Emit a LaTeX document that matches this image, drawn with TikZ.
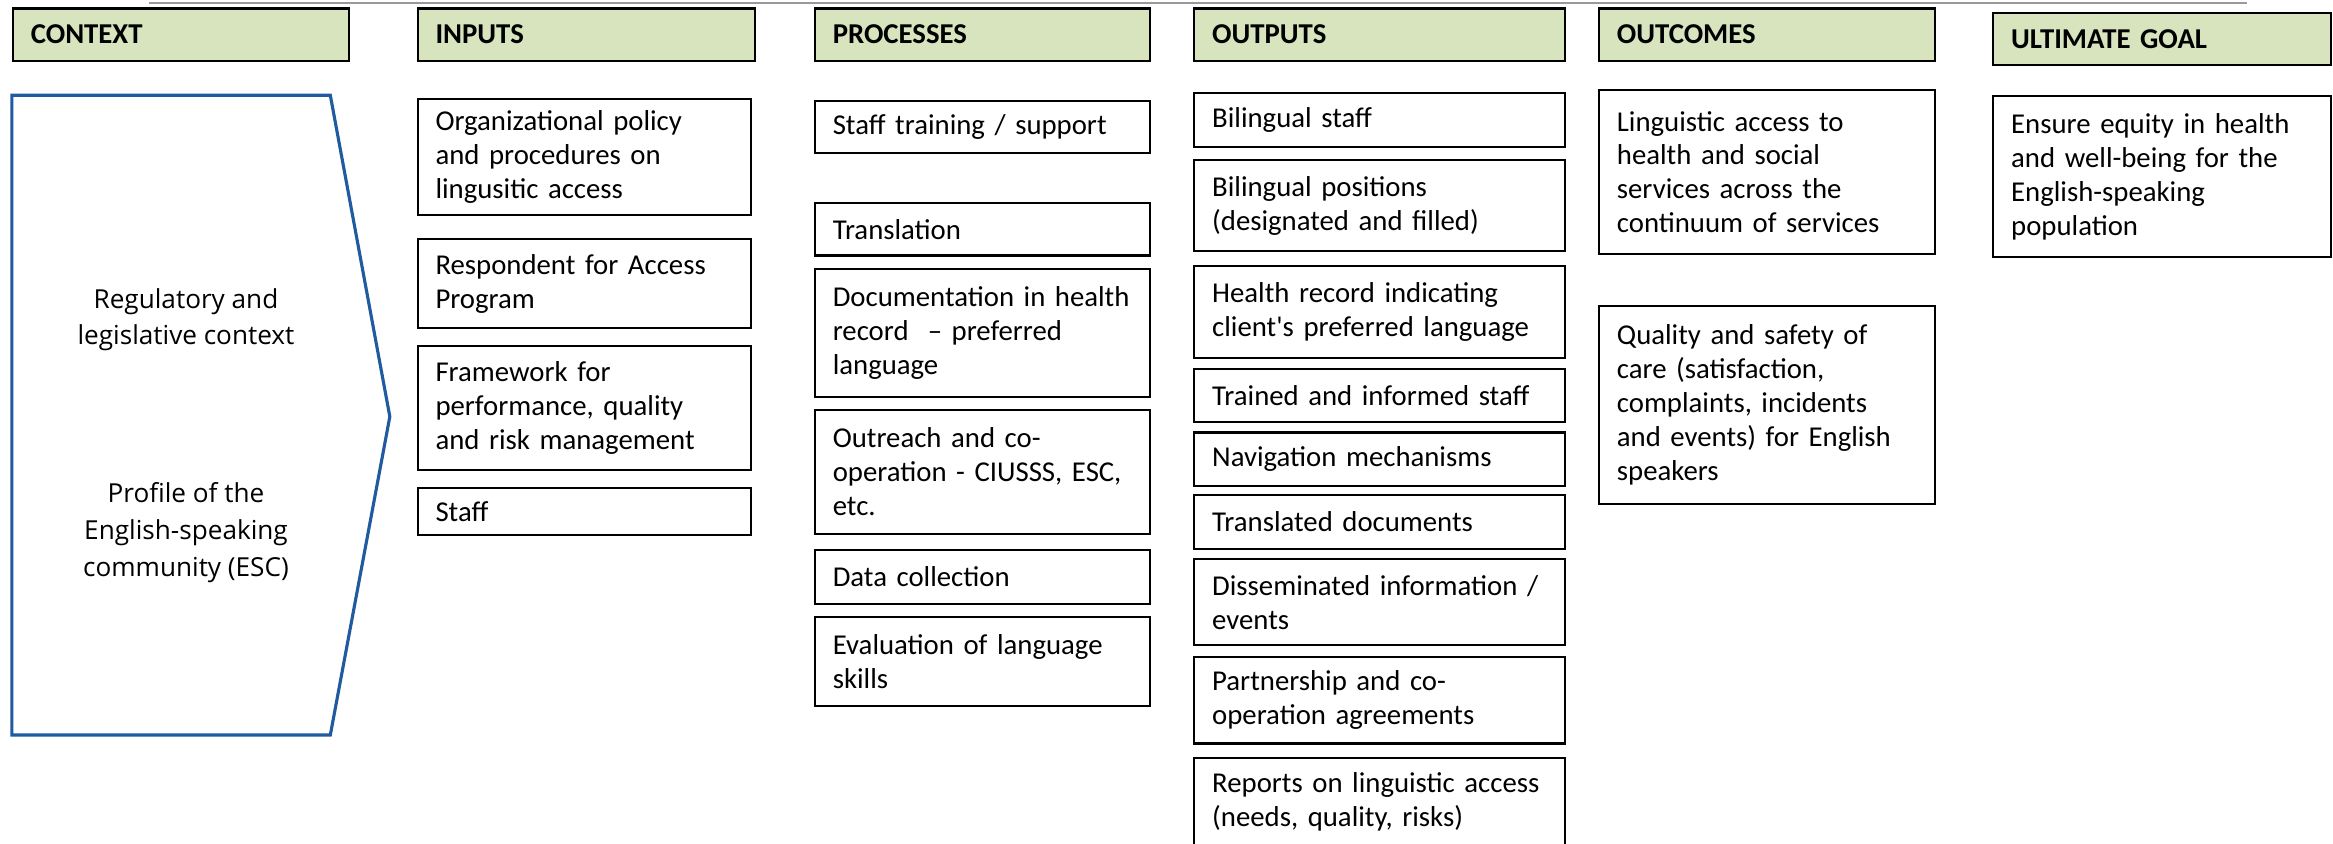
\documentclass[tikz,border=0pt]{standalone}
\usepackage{fontspec}
\setmainfont{Carlito}
\newfontfamily\ctxfont{Open Sans}
\definecolor{hdrgreen}{HTML}{D7E4BD}
\definecolor{ctxblue}{HTML}{1F5B9E}
\begin{document}
\begin{tikzpicture}[
  hdr/.style={draw,fill=hdrgreen,line width=0.8pt,anchor=north west,minimum height=0.7cm,inner xsep=0.24cm,text width=#1,align=left,font=\fontsize{11}{13}\selectfont\bfseries},
  box/.style={draw,line width=0.8pt,anchor=north west,inner xsep=0.24cm,inner ysep=0pt,text width=#1,align=left,font=\fontsize{11}{13}\selectfont},
  ctx/.style={align=center,font=\ctxfont\fontsize{10}{14}\selectfont}]
\useasboundingbox (0,0) rectangle (31.36,-11.34);
\draw[black!40,line width=0.6pt](2.0,-0.04)--(30.2,-0.04);
% column headers
\foreach \x/\y/\w/\n/\t in {0.16/-0.10/4.04/hctx/CONTEXT, 5.60/-0.10/4.06/hin/INPUTS, 10.94/-0.10/4.02/hproc/PROCESSES,
  16.04/-0.10/4.50/hout/OUTPUTS, 21.48/-0.10/4.04/hres/OUTCOMES, 26.78/-0.16/4.06/hgoal/ULTIMATE GOAL}
  \node[hdr=\w cm](\n)at(\x,\y){\t};
% context
\draw[ctxblue,line width=1.2pt](0.16,-1.28)--(4.44,-1.28)--(5.24,-5.60)--(4.44,-9.88)--(0.16,-9.88)--cycle;
\node[ctx](reg)at(2.5,-4.30){Regulatory and\\legislative context};
\node[ctx](esc)at(2.5,-7.16){Profile of the\\English-speaking\\community (ESC)};
% inputs
\node[box=4.00cm,minimum height=1.56cm](in1)at(5.60,-1.32){Organizational policy\\and procedures on\\lingusitic access};
\node[box=4.00cm,minimum height=1.20cm](in2)at(5.60,-3.20){Respondent for Access\\Program};
\node[box=4.00cm,minimum height=1.66cm](in3)at(5.60,-4.64){Framework for\\performance, quality\\and risk management};
\node[box=4.00cm,minimum height=0.64cm](in4)at(5.60,-6.54){Staff};
% processes
\node[box=4.02cm,minimum height=0.70cm](pr1)at(10.94,-1.34){Staff training / support};
\node[box=4.02cm,minimum height=0.70cm](pr2)at(10.94,-2.72){Translation};
\node[box=4.02cm,minimum height=1.72cm](pr3)at(10.94,-3.60){Documentation in health\\record ~-- preferred\\language};
\node[box=4.02cm,minimum height=1.66cm](pr4)at(10.94,-5.50){Outreach and co-\\operation - CIUSSS, ESC,\\etc.};
\node[box=4.02cm,minimum height=0.72cm](pr5)at(10.94,-7.38){Data collection};
\node[box=4.02cm,minimum height=1.20cm](pr6)at(10.94,-8.28){Evaluation of language\\skills};
% outputs
\node[box=4.50cm,minimum height=0.72cm](out1)at(16.04,-1.24){Bilingual staff};
\node[box=4.50cm,minimum height=1.22cm](out2)at(16.04,-2.14){Bilingual positions\\(designated and filled)};
\node[box=4.50cm,minimum height=1.24cm](out3)at(16.04,-3.56){Health record indicating\\client\textquotesingle s preferred language};
\node[box=4.50cm,minimum height=0.72cm](out4)at(16.04,-4.94){Trained and informed staff};
\node[box=4.50cm,minimum height=0.72cm](out5)at(16.04,-5.80){Navigation mechanisms};
\node[box=4.50cm,minimum height=0.72cm](out6)at(16.04,-6.64){Translated documents};
\node[box=4.50cm,minimum height=1.16cm](out7)at(16.04,-7.50){Disseminated information /\\events};
\node[box=4.50cm,minimum height=1.16cm](out8)at(16.04,-8.82){Partnership and co-\\operation agreements};
\node[box=4.50cm,minimum height=1.18cm](out9)at(16.04,-10.18){Reports on linguistic access\\(needs, quality, risks)};
% outcomes and goal
\node[box=4.04cm,minimum height=2.20cm](res1)at(21.48,-1.20){Linguistic access to\\health and social\\services across the\\continuum of services};
\node[box=4.04cm,minimum height=2.66cm](res2)at(21.48,-4.10){Quality and safety of\\care (satisfaction,\\complaints, incidents\\and events) for English\\speakers};
\node[box=4.06cm,minimum height=2.16cm](goal)at(26.78,-1.28){Ensure equity in health\\and well-being for the\\English-speaking\\population};
\end{tikzpicture}
\end{document}
